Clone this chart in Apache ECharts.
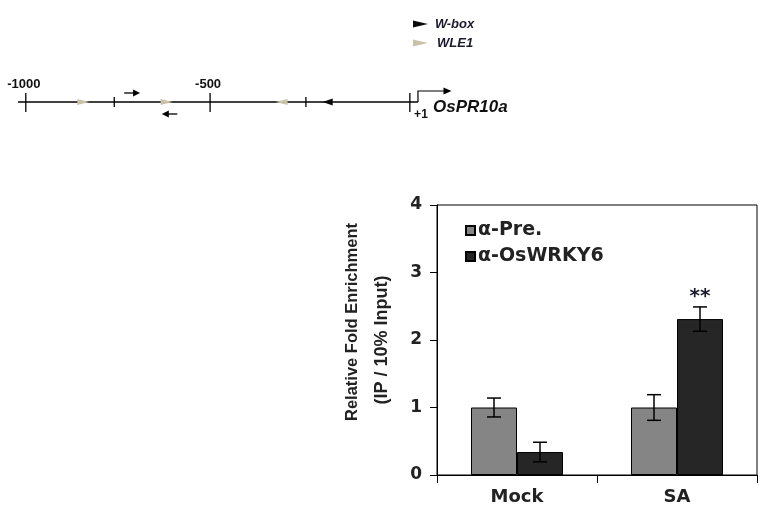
<!DOCTYPE html>
<html><head><meta charset="utf-8">
<script src="https://cdn.jsdelivr.net/npm/echarts@6/dist/echarts.min.js"></script>
<style>html,body{margin:0;padding:0;background:#fff}#c{width:760px;height:510px}</style>
</head><body><div id="c"></div>
<script>
// ---- bar chart data ----
var categories = ['Mock', 'SA'];
var seriesNames = ['\u03b1-Pre.', '\u03b1-OsWRKY6'];
var preValues = [1.0, 1.0];
var preErrors = [0.14, 0.19];
var wrkyValues = [0.34, 2.31];
var wrkyErrors = [0.145, 0.18];
var wrkySignif = ['', '**'];
var yTicks = [0, 1, 2, 3, 4];

// ---- promoter map data (positions in bp) ----
var mapLine = [-1021, 64];
var mapTicks = [-1000, -760, -500, -240, 42];
var mapTickLong = [1, 0, 1, 0, 1];
var mapTickLabels = ['-1000', '', '-500', '', ''];
var wle1Pos = [-844, -618, -306];
var wle1Dir = [1, 1, -1];
var wboxPos = [-181];
var wboxDir = [-1];
var primerFwd = [-733, -690];
var primerRev = [-589, -631];
var tssPos = 64;
var tssArrowEnd = 155;
var tssLabel = '+1';
var geneName = 'OsPR10a';
var geneLabelPos = 105;

var chart = echarts.init(document.getElementById('c'));
var BOLD = 'DejaVu Sans';
var barWidthRatio = 0.2875;

function tri(cx, cy, w, h, dir) {
  var hw = w / 2;
  return [[cx - dir * hw, cy - h / 2], [cx + dir * hw, cy], [cx - dir * hw, cy + h / 2]];
}

function errSeries(name, values, errors, sign, signif) {
  return {
    type: 'custom', name: name + ' err', xAxisIndex: 0, yAxisIndex: 0, z: 5,
    silent: true,
    data: values.map(function (v, i) { return [i, v, errors[i]]; }),
    renderItem: function (params, api) {
      var i = api.value(0), v = api.value(1), e = api.value(2);
      var c = api.coord([i, v]);
      var bw = api.size([1, 0])[0] * barWidthRatio;
      var x = c[0] + sign * bw / 2;
      var top = api.coord([i, v + e])[1];
      var bot = api.coord([i, v - e])[1];
      var cap = 7;
      var st = { stroke: '#000', lineWidth: 1.5 };
      var ch = [
        { type: 'line', shape: { x1: x, y1: top, x2: x, y2: bot }, style: st },
        { type: 'line', shape: { x1: x - cap, y1: top, x2: x + cap, y2: top }, style: st },
        { type: 'line', shape: { x1: x - cap, y1: bot, x2: x + cap, y2: bot }, style: st }
      ];
      var s = signif ? signif[params.dataIndex] : '';
      if (s) {
        ch.push({ type: 'text', style: { text: s, x: x, y: top - 10, align: 'center', verticalAlign: 'middle',
          font: 'bold 20px ' + BOLD, fill: '#1a1a2a' } });
      }
      return { type: 'group', children: ch };
    }
  };
}

var option = {
  backgroundColor: '#fff',
  animation: false,
  grid: [
    { left: 437, right: 3, top: 205, bottom: 35, show: true, borderColor: '#000', borderWidth: 1, backgroundColor: 'transparent' },
    { left: 0, right: 0, top: 90, height: 24 }
  ],
  legend: {
    orient: 'vertical', left: 460, top: 216, itemWidth: 9, itemHeight: 9, itemGap: 7,
    icon: 'rect', data: seriesNames,
    textStyle: { fontFamily: BOLD, fontWeight: 'bold', fontSize: 19, color: '#222', lineHeight: 19, padding: [0, 0, 0, -2] }
  },
  xAxis: [
    { type: 'category', gridIndex: 0, data: categories, boundaryGap: true,
      axisLine: { lineStyle: { color: '#000', width: 1 } },
      axisTick: { show: true, length: 8, lineStyle: { color: '#000' } },
      axisLabel: { fontFamily: BOLD, fontWeight: 'bold', fontSize: 18, color: '#222', margin: 13 } },
    { type: 'value', gridIndex: 1, min: -1070, max: 992, show: false }
  ],
  yAxis: [
    { type: 'value', gridIndex: 0, min: 0, max: 4, interval: 1,
      axisLine: { show: true, lineStyle: { color: '#000', width: 1 } },
      axisTick: { show: true, length: 7, lineStyle: { color: '#000' } },
      splitLine: { show: false },
      axisLabel: { fontFamily: BOLD, fontWeight: 'bold', fontSize: 17, color: '#222', margin: 15,
        formatter: function (v) { return yTicks.indexOf(v) >= 0 ? String(v) : ''; } },
      name: '{a|Relative Fold Enrichment}\n{b|(IP / 10% Input)}',
      nameLocation: 'middle', nameRotate: 90, nameGap: 40,
      nameTextStyle: { lineHeight: 30, rich: {
        a: { fontFamily: 'Liberation Sans', fontWeight: 'bold', fontSize: 16.5, color: '#222', padding: [0, 0, 0, 36], lineHeight: 30 },
        b: { fontFamily: 'Liberation Sans', fontWeight: 'bold', fontSize: 18, color: '#222', lineHeight: 30 } } } },
    { type: 'value', gridIndex: 1, min: -1, max: 1, show: false }
  ],
  series: [
    { type: 'bar', name: seriesNames[0], data: preValues, barWidth: (barWidthRatio * 100) + '%', barGap: '0%',
      itemStyle: { color: '#858585', borderColor: '#000', borderWidth: 1 } },
    { type: 'bar', name: seriesNames[1], data: wrkyValues, barWidth: (barWidthRatio * 100) + '%', barGap: '0%',
      itemStyle: { color: '#262626', borderColor: '#000', borderWidth: 1 } },
    errSeries(seriesNames[0], preValues, preErrors, -1, null),
    errSeries(seriesNames[1], wrkyValues, wrkyErrors, 1, wrkySignif),
    // ---- promoter map ----
    { type: 'custom', xAxisIndex: 1, yAxisIndex: 1, silent: true, clip: false,
      data: [mapLine],
      renderItem: function (params, api) {
        var a = api.coord([api.value(0), 0]), b = api.coord([api.value(1), 0]);
        return { type: 'line', shape: { x1: a[0], y1: a[1], x2: b[0], y2: b[1] }, style: { stroke: '#000', lineWidth: 1.3 } };
      } },
    { type: 'custom', xAxisIndex: 1, yAxisIndex: 1, silent: true, clip: false,
      data: mapTicks.map(function (p, i) { return [p, mapTickLong[i]]; }),
      renderItem: function (params, api) {
        var c = api.coord([api.value(0), 0]);
        var long = api.value(1) === 1;
        var up = long ? 9 : 5, dn = long ? 10 : 5;
        var lab = mapTickLabels[params.dataIndex];
        var ch = [{ type: 'line', shape: { x1: c[0], y1: c[1] - up, x2: c[0], y2: c[1] + dn }, style: { stroke: '#000', lineWidth: 1.3 } }];
        if (lab) ch.push({ type: 'text', style: { text: lab, x: c[0] - 2, y: c[1] - 18, align: 'center', verticalAlign: 'middle',
          font: 'bold 13px Liberation Sans', fill: '#111' } });
        return { type: 'group', children: ch };
      } },
    { type: 'custom', xAxisIndex: 1, yAxisIndex: 1, silent: true, clip: false, z: 3,
      data: wle1Pos.map(function (p, i) { return [p, wle1Dir[i]]; }),
      renderItem: function (params, api) {
        var c = api.coord([api.value(0), 0]);
        return { type: 'polygon', shape: { points: tri(c[0], c[1], 12, 6, api.value(1)) }, style: { fill: '#c9c1a9' } };
      } },
    { type: 'custom', xAxisIndex: 1, yAxisIndex: 1, silent: true, clip: false, z: 3,
      data: wboxPos.map(function (p, i) { return [p, wboxDir[i]]; }),
      renderItem: function (params, api) {
        var c = api.coord([api.value(0), 0]);
        return { type: 'polygon', shape: { points: tri(c[0], c[1], 10, 7, api.value(1)) }, style: { fill: '#0a0a0a' } };
      } },
    { type: 'custom', xAxisIndex: 1, yAxisIndex: 1, silent: true, clip: false,
      data: [[primerFwd[0], primerFwd[1], -9], [primerRev[0], primerRev[1], 12]],
      renderItem: function (params, api) {
        var a = api.coord([api.value(0), 0]), b = api.coord([api.value(1), 0]);
        var y = a[1] + api.value(2);
        var dir = b[0] > a[0] ? 1 : -1;
        var hx = b[0];
        return { type: 'group', children: [
          { type: 'line', shape: { x1: a[0], y1: y, x2: hx - dir * 5, y2: y }, style: { stroke: '#000', lineWidth: 1.3 } },
          { type: 'polygon', shape: { points: [[hx, y], [hx - dir * 7, y - 3.5], [hx - dir * 7, y + 3.5]] }, style: { fill: '#000' } }
        ] };
      } },
    { type: 'custom', xAxisIndex: 1, yAxisIndex: 1, silent: true, clip: false,
      data: [[tssPos, tssArrowEnd, geneLabelPos]],
      renderItem: function (params, api) {
        var a = api.coord([api.value(0), 0]), b = api.coord([api.value(1), 0]), g = api.coord([api.value(2), 0]);
        var yT = a[1] - 11;
        return { type: 'group', children: [
          { type: 'polyline', shape: { points: [[a[0], a[1]], [a[0], yT], [b[0] - 6, yT]] }, style: { stroke: '#000', lineWidth: 1.2, fill: null } },
          { type: 'polygon', shape: { points: [[b[0], yT], [b[0] - 8, yT - 3.5], [b[0] - 8, yT + 3.5]] }, style: { fill: '#000' } },
          { type: 'text', style: { text: tssLabel, x: a[0] + 3, y: a[1] + 13, align: 'center', verticalAlign: 'middle', font: 'bold 12px Liberation Sans', fill: '#111' } },
          { type: 'text', style: { text: geneName, x: g[0], y: a[1] + 5, align: 'left', verticalAlign: 'middle', font: 'italic bold 17px Liberation Sans', fill: '#111' } }
        ] };
      } }
  ],
  graphic: [
    { type: 'polygon', shape: { points: [[413, 20.5], [428, 24], [413, 27.5]] }, style: { fill: '#0a0a0a' } },
    { type: 'text', style: { text: 'W-box', x: 435, y: 24, verticalAlign: 'middle', font: 'italic bold 13px Liberation Sans', fill: '#1a1a2e' } },
    { type: 'polygon', shape: { points: [[413, 39.5], [428, 43], [413, 46.5]] }, style: { fill: '#c9c1a9' } },
    { type: 'text', style: { text: 'WLE1', x: 437, y: 43, verticalAlign: 'middle', font: 'italic bold 13px Liberation Sans', fill: '#1a1a2e' } }
  ]
};
chart.setOption(option);
</script></body></html>
